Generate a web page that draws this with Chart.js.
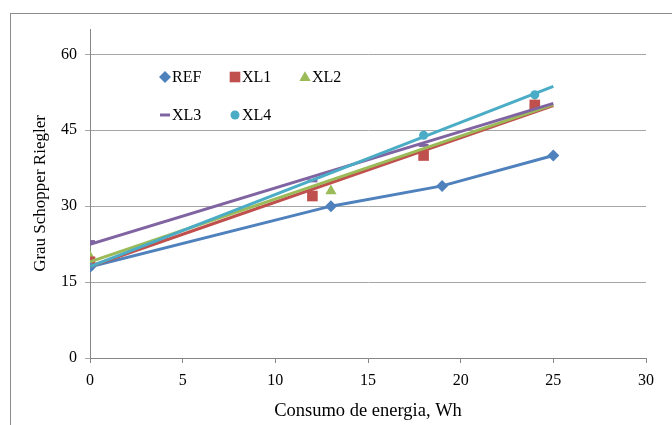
<!DOCTYPE html>
<html>
<head>
<meta charset="utf-8">
<script src="https://cdn.jsdelivr.net/npm/chart.js@4"></script>
<style>
  html, body { margin: 0; padding: 0; background: #fff; }
  #wrap { width: 672px; height: 425px; position: relative; }
</style>
</head>
<body>
<div id="wrap"><canvas id="chart"></canvas></div>
<script>
// data
const seriesNames = ['REF', 'XL1', 'XL2', 'XL3', 'XL4'];
const refX = [0, 13, 19, 25];
const refY = [18, 30, 34, 40];
const xl1X = [0, 12, 18, 24];
const xl1Y = [19, 32, 40, 50];
const xl2X = [0, 13, 24];
const xl2Y = [20, 33, 50];
const xl3X = [0, 12, 18, 24];
const xl3Y = [23, 35, 42, 50];
const xl4X = [0, 18, 24];
const xl4Y = [18, 44, 52];
const trendRange = [0, 25];
const xTicks = [0, 5, 10, 15, 20, 25, 30];
const yTicks = [0, 15, 30, 45, 60];

const colors = ['#4F81BD', '#C0504D', '#9BBB59', '#8064A2', '#4BACC6'];
const styles = ['rectRot', 'rect', 'triangle', 'line', 'circle'];
const radii = [6, 7.5, 6.5, 5, 4.5];
const FONT = '"Liberation Serif", "Times New Roman", serif';

const pts = (xs, ys) => xs.map((x, i) => ({ x: x, y: ys[i] }));

// least squares trendline, like excel's linear trendline
function trend(xs, ys) {
  const n = xs.length;
  const mx = xs.reduce((a, b) => a + b, 0) / n;
  const my = ys.reduce((a, b) => a + b, 0) / n;
  let sxy = 0, sxx = 0;
  xs.forEach((x, i) => { sxy += (x - mx) * (ys[i] - my); sxx += (x - mx) * (x - mx); });
  const m = sxy / sxx, b = my - m * mx;
  return trendRange.map(x => ({ x: x, y: b + m * x }));
}

const allX = [refX, xl1X, xl2X, xl3X, xl4X];
const allY = [refY, xl1Y, xl2Y, xl3Y, xl4Y];

const datasets = [];
// markers first (drawn underneath)
seriesNames.forEach((name, i) => {
  datasets.push({
    label: name,
    data: pts(allX[i], allY[i]),
    showLine: false,
    pointStyle: styles[i],
    pointRadius: radii[i],
    pointBorderWidth: styles[i] === 'line' ? 3 : 0,
    backgroundColor: colors[i],
    borderColor: colors[i],
    order: 10
  });
});
// lines on top: REF joins its points, the others are trendlines
seriesNames.forEach((name, i) => {
  datasets.push({
    label: name + ' line',
    data: i === 0 ? pts(refX, refY) : trend(allX[i], allY[i]),
    showLine: true,
    pointRadius: 0,
    borderWidth: 3,
    borderColor: colors[i],
    backgroundColor: colors[i],
    order: 5 - i
  });
});

function drawMark(ctx, style, r, x, y, color) {
  ctx.save();
  ctx.fillStyle = color;
  ctx.strokeStyle = color;
  ctx.beginPath();
  if (style === 'rectRot') {
    ctx.moveTo(x, y - r); ctx.lineTo(x + r, y); ctx.lineTo(x, y + r); ctx.lineTo(x - r, y);
    ctx.closePath(); ctx.fill();
  } else if (style === 'rect') {
    const s = r * Math.SQRT1_2;
    ctx.fillRect(x - s, y - s, 2 * s, 2 * s);
  } else if (style === 'triangle') {
    const h = r * 1.5;
    ctx.moveTo(x, y - h * 0.6); ctx.lineTo(x + r * 0.87, y + h * 0.4); ctx.lineTo(x - r * 0.87, y + h * 0.4);
    ctx.closePath(); ctx.fill();
  } else if (style === 'line') {
    ctx.lineWidth = 3;
    ctx.moveTo(x - r, y); ctx.lineTo(x + r, y); ctx.stroke();
  } else {
    ctx.arc(x, y, r, 0, Math.PI * 2); ctx.fill();
  }
  ctx.restore();
}

const frameAndLegend = {
  id: 'frameAndLegend',
  beforeDraw(chart) {
    const ctx = chart.ctx;
    ctx.save();
    ctx.strokeStyle = '#8c8c8c';
    ctx.lineWidth = 1;
    ctx.strokeRect(10.5, 13.5, 720, 460);
    ctx.restore();
  },
  afterDraw(chart) {
    const ctx = chart.ctx;
    const spots = [[165, 77], [235, 77], [305, 77], [165, 115], [235, 115]];
    ctx.save();
    ctx.font = '16px ' + FONT;
    ctx.fillStyle = '#000';
    ctx.textBaseline = 'middle';
    seriesNames.forEach((name, i) => {
      const [x, y] = spots[i];
      drawMark(ctx, styles[i], radii[i], x, y, colors[i]);
      ctx.fillText(name, x + 7, y + 1);
    });
    ctx.restore();
  }
};

new Chart(document.getElementById('chart'), {
  type: 'scatter',
  data: { datasets: datasets },
  options: {
    responsive: true,
    maintainAspectRatio: false,
    animation: false,
    layout: { padding: { left: 0, top: 29, right: 26, bottom: 0 } },
    plugins: { legend: { display: false }, tooltip: { enabled: false } },
    scales: {
      x: {
        type: 'linear',
        min: xTicks[0],
        max: xTicks[xTicks.length - 1],
        afterBuildTicks: s => { s.ticks = xTicks.map(v => ({ value: v })); },
        afterFit: s => { s.height = 67; },
        ticks: { font: { family: FONT, size: 16 }, color: '#000', padding: 8, maxRotation: 0 },
        grid: { drawOnChartArea: false, tickLength: 5, color: '#868686' },
        border: { color: '#868686' },
        title: { display: true, text: 'Consumo de energia, Wh', font: { family: FONT, size: 18.5 }, color: '#000', padding: { top: 0, bottom: 3 } }
      },
      y: {
        type: 'linear',
        min: 0,
        max: 65,
        afterBuildTicks: s => { s.ticks = yTicks.map(v => ({ value: v })); },
        afterFit: s => { s.width = 90; },
        ticks: { font: { family: FONT, size: 16 }, color: '#000', padding: 8 },
        grid: { tickLength: 5, color: '#a6a6a6' },
        border: { color: '#868686' },
        title: { display: true, text: 'Grau Schopper Riegler', font: { family: FONT, size: 17 }, color: '#000', padding: { top: 30, bottom: 0 } }
      }
    }
  },
  plugins: [frameAndLegend]
});
</script>
</body>
</html>
